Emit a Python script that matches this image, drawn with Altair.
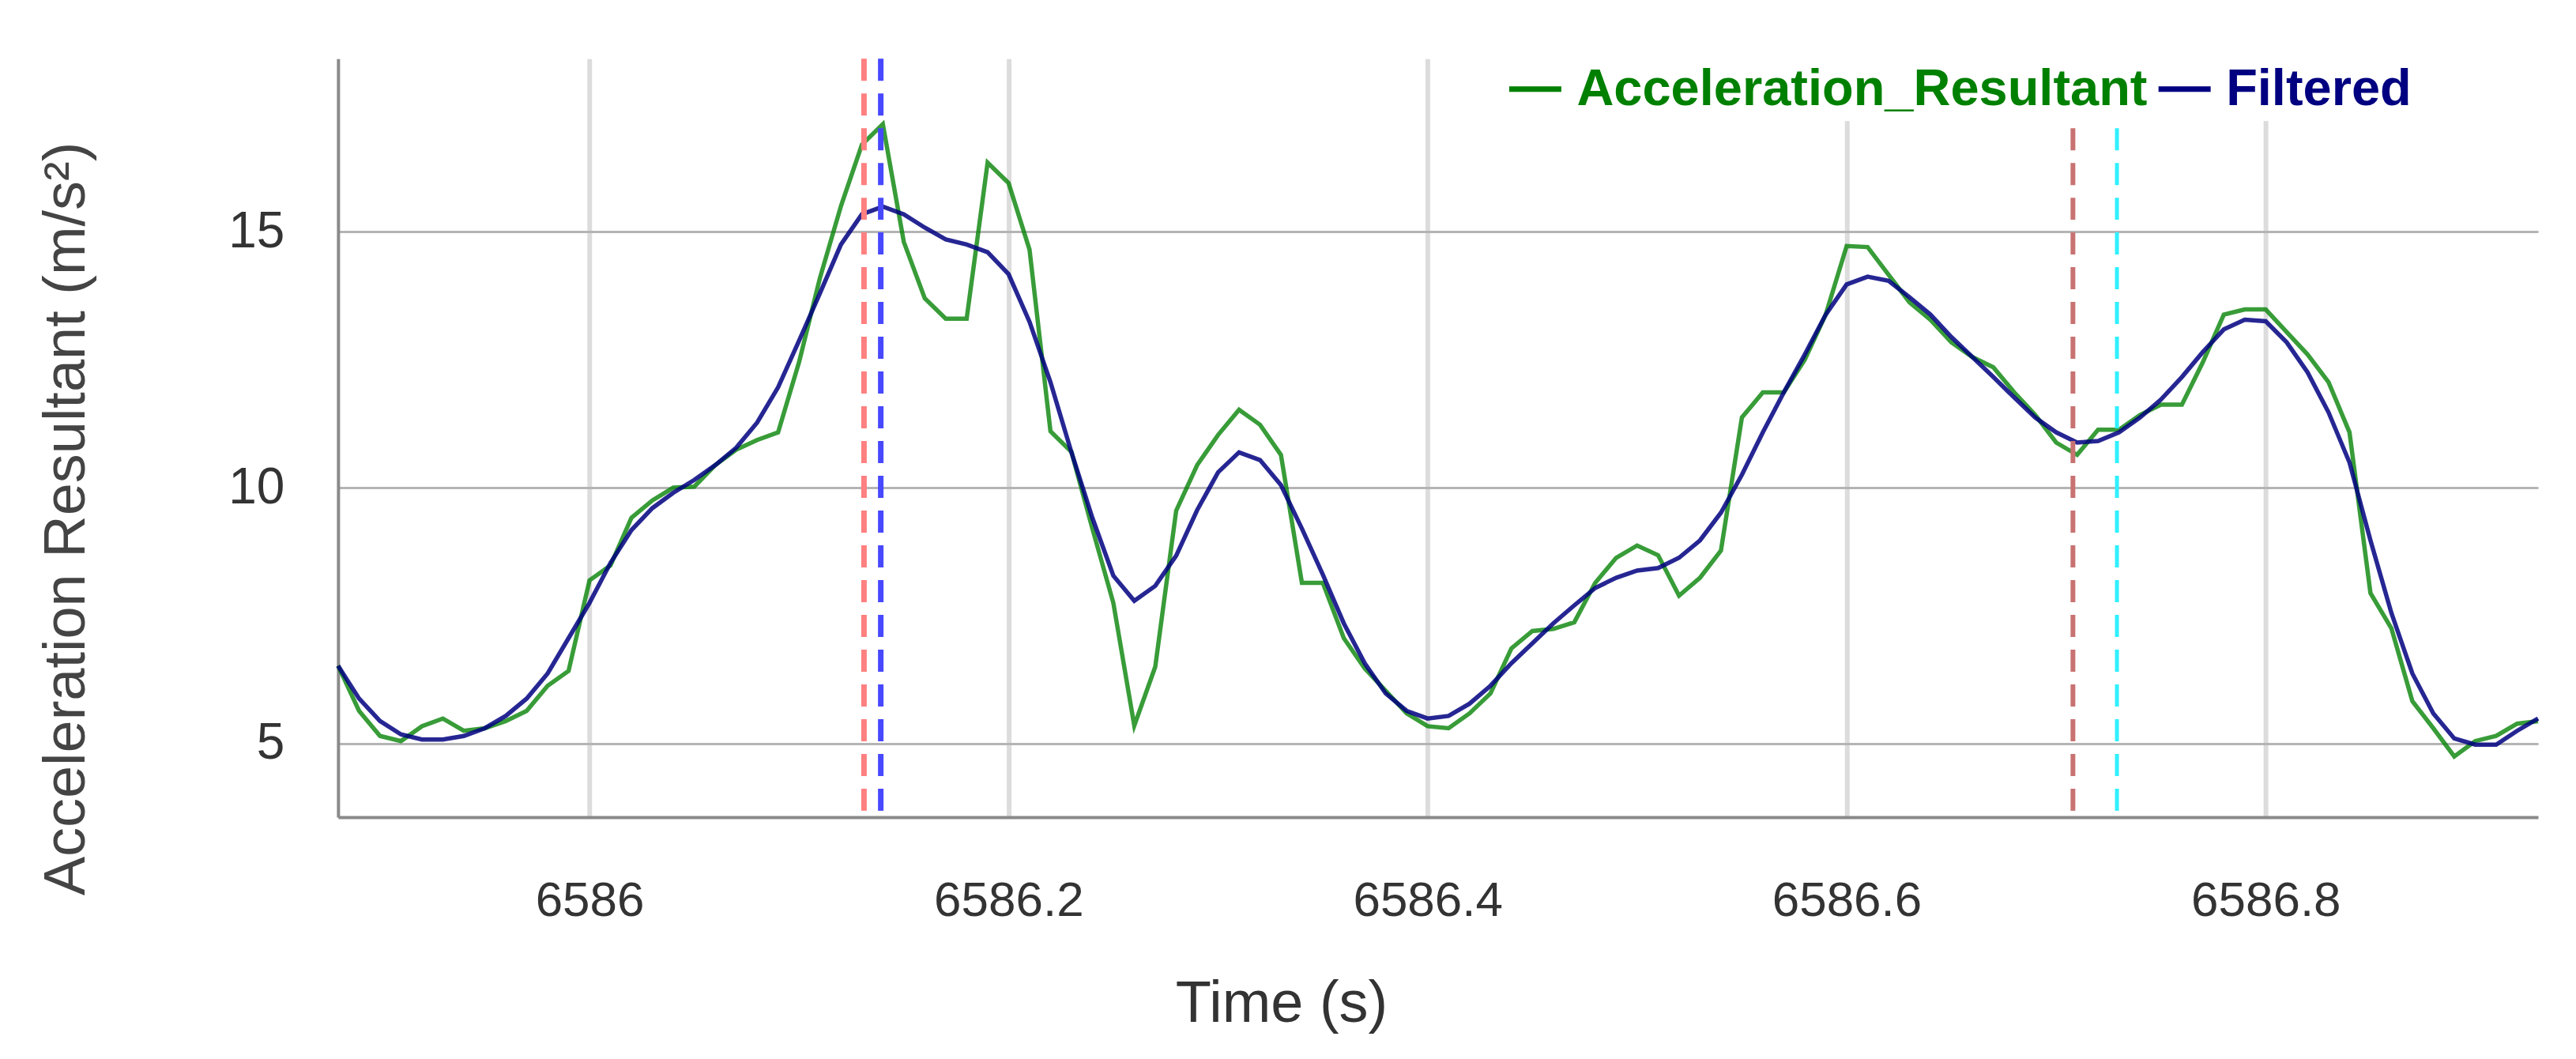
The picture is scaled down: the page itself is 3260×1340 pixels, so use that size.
import altair as alt
import pandas as pd

time_s = [
    6585.88, 6585.89, 6585.90, 6585.91, 6585.92, 6585.93, 6585.94, 6585.95, 6585.96, 6585.97,
    6585.98, 6585.99, 6586.00, 6586.01, 6586.02, 6586.03, 6586.04, 6586.05, 6586.06, 6586.07,
    6586.08, 6586.09, 6586.10, 6586.11, 6586.12, 6586.13, 6586.14, 6586.15, 6586.16, 6586.17,
    6586.18, 6586.19, 6586.20, 6586.21, 6586.22, 6586.23, 6586.24, 6586.25, 6586.26, 6586.27,
    6586.28, 6586.29, 6586.30, 6586.31, 6586.32, 6586.33, 6586.34, 6586.35, 6586.36, 6586.37,
    6586.38, 6586.39, 6586.40, 6586.41, 6586.42, 6586.43, 6586.44, 6586.45, 6586.46, 6586.47,
    6586.48, 6586.49, 6586.50, 6586.51, 6586.52, 6586.53, 6586.54, 6586.55, 6586.56, 6586.57,
    6586.58, 6586.59, 6586.60, 6586.61, 6586.62, 6586.63, 6586.64, 6586.65, 6586.66, 6586.67,
    6586.68, 6586.69, 6586.70, 6586.71, 6586.72, 6586.73, 6586.74, 6586.75, 6586.76, 6586.77,
    6586.78, 6586.79, 6586.80, 6586.81, 6586.82, 6586.83, 6586.84, 6586.85, 6586.86, 6586.87,
    6586.88, 6586.89, 6586.90, 6586.91, 6586.92, 6586.93,
]

accel_raw = [
    6.52, 5.64, 5.15, 5.05, 5.34, 5.49, 5.25, 5.30, 5.44, 5.64,
    6.13, 6.42, 8.19, 8.48, 9.41, 9.75, 10.00, 10.02, 10.44, 10.74,
    10.93, 11.08, 12.45, 14.10, 15.50, 16.70, 17.10, 14.80, 13.70, 13.30,
    13.30, 16.35, 15.95, 14.65, 11.10, 10.70, 9.20, 7.75, 5.35, 6.50,
    9.55, 10.44, 11.03, 11.52, 11.23, 10.64, 8.14, 8.14, 7.06, 6.47,
    6.03, 5.59, 5.34, 5.30, 5.59, 5.98, 6.86, 7.20, 7.24, 7.37,
    8.14, 8.63, 8.87, 8.68, 7.89, 8.24, 8.77, 11.37, 11.86, 11.86,
    12.50, 13.38, 14.72, 14.70, 14.16, 13.62, 13.28, 12.84, 12.55, 12.35,
    11.86, 11.42, 10.88, 10.64, 11.13, 11.13, 11.42, 11.62, 11.62, 12.45,
    13.38, 13.48, 13.48, 13.04, 12.60, 12.06, 11.08, 7.94, 7.25, 5.83,
    5.30, 4.75, 5.05, 5.15, 5.39, 5.44,
]

accel_filtered = [
    6.52, 5.88, 5.44, 5.18, 5.08, 5.08, 5.15, 5.30, 5.54, 5.88,
    6.37, 7.06, 7.75, 8.53, 9.17, 9.60, 9.90, 10.15, 10.44, 10.78,
    11.27, 11.96, 12.87, 13.80, 14.75, 15.34, 15.49, 15.34, 15.08, 14.85,
    14.75, 14.60, 14.17, 13.24, 12.06, 10.69, 9.41, 8.28, 7.79, 8.08,
    8.67, 9.56, 10.30, 10.69, 10.54, 10.05, 9.20, 8.30, 7.35, 6.57,
    5.98, 5.64, 5.49, 5.54, 5.78, 6.13, 6.57, 6.96, 7.35, 7.70,
    8.04, 8.24, 8.38, 8.43, 8.63, 8.97, 9.51, 10.25, 11.08, 11.86,
    12.60, 13.38, 13.97, 14.12, 14.04, 13.72, 13.38, 12.94, 12.55, 12.16,
    11.76, 11.37, 11.08, 10.88, 10.91, 11.08, 11.37, 11.72, 12.16, 12.65,
    13.09, 13.28, 13.25, 12.84, 12.25, 11.47, 10.49, 8.97, 7.55, 6.37,
    5.59, 5.10, 4.98, 4.98, 5.25, 5.49,
]

marker_times = [6586.131, 6586.139, 6586.708, 6586.729]
marker_colors = ["#ff8080", "#4848ff", "#c87272", "#2ff0ff"]
marker_widths = [7, 7, 6, 5]

x_ticks = [6586, 6586.2, 6586.4, 6586.6, 6586.8]
y_ticks = [5, 10, 15]

series_names = ["Acceleration_Resultant", "Filtered"]
series_colors = ["#008000", "#000080"]

df = pd.DataFrame({
    "time": time_s * 2,
    "value": accel_raw + accel_filtered,
    "series": [series_names[0]] * len(time_s) + [series_names[1]] * len(time_s),
})

FONT = "Liberation Sans"

x_scale = alt.Scale(domain=[6585.88, 6586.93], nice=False, zero=False)
y_scale = alt.Scale(domain=[3.565, 18.38], nice=False, zero=False)

x_axis = alt.Axis(
    values=x_ticks, format="~f", grid=True, gridColor="#dcdcdc", gridWidth=6,
    ticks=False, tickSize=0, labelFontSize=62, labelPadding=76, labelBaseline="top",
    labelColor="#333333", labelFont=FONT, labelLimit=0, domainColor="#8a8a8a", domainWidth=4,
    title="Time (s)", titleFontSize=74, titleFontWeight="normal", titleColor="#333333",
    titleFont=FONT, titleX=1194, titleY=259, titleBaseline="alphabetic", titleAlign="center",
    labelFlush=False, labelOverlap=False,
)
y_axis = alt.Axis(
    values=y_ticks, grid=True, gridColor="#b4b4b4", gridWidth=3,
    ticks=False, tickSize=0, labelFontSize=64, labelPadding=68, labelLimit=0,
    labelColor="#333333", labelFont=FONT, domainColor="#8a8a8a", domainWidth=4,
    title="Acceleration Resultant (m/s²)", titleFontSize=74, titleFontWeight="normal",
    titleColor="#444444", titleFont=FONT, titleX=-321, titleY=582, titleAngle=-90,
    titleBaseline="alphabetic", titleAlign="center",
)


def legend_for(i, lx):
    return alt.Legend(
        title=None, orient="none", legendX=lx, legendY=-4, direction="horizontal",
        symbolType="stroke", symbolSize=4356, symbolStrokeWidth=7, symbolOpacity=1,
        labelFontSize=65, labelFontWeight="bold", labelFont=FONT, labelLimit=0,
        labelColor=series_colors[i], labelOffset=16, padding=6, fillColor="white",
        strokeColor="white", zindex=2,
    )


raw_line = alt.Chart(df).transform_filter(
    alt.datum.series == series_names[0]
).mark_line(strokeWidth=5.5, opacity=0.78).encode(
    x=alt.X("time:Q", scale=x_scale, axis=x_axis),
    y=alt.Y("value:Q", scale=y_scale, axis=y_axis),
    color=alt.Color("series:N", scale=alt.Scale(domain=[series_names[0]], range=[series_colors[0]]),
                    legend=legend_for(0, 1473)),
)

filt_line = alt.Chart(df).transform_filter(
    alt.datum.series == series_names[1]
).mark_line(strokeWidth=5.5, opacity=0.85).encode(
    x=alt.X("time:Q", scale=x_scale, axis=x_axis),
    y=alt.Y("value:Q", scale=y_scale, axis=y_axis),
    color=alt.Color("series:N", scale=alt.Scale(domain=[series_names[1]], range=[series_colors[1]]),
                    legend=legend_for(1, 2295)),
)

rules = []
for t, c, w in zip(marker_times, marker_colors, marker_widths):
    rules.append(
        alt.Chart(pd.DataFrame({"time": [t]})).mark_rule(
            color=c, strokeWidth=w, strokeDash=[28, 16]
        ).encode(x=alt.X("time:Q", scale=x_scale, axis=x_axis))
    )

chart = alt.layer(raw_line, filt_line, *rules).resolve_scale(
    color="independent"
).resolve_legend(color="independent").properties(
    width=2785, height=960,
    autosize=alt.AutoSizeParams(type="none"),
    padding={"left": 420, "top": 66, "right": 40, "bottom": 290},
    background="white",
).configure(font=FONT).configure_view(stroke="transparent", strokeOpacity=0)

chart.save("out.html", embed_options={"renderer": "svg", "actions": False})
